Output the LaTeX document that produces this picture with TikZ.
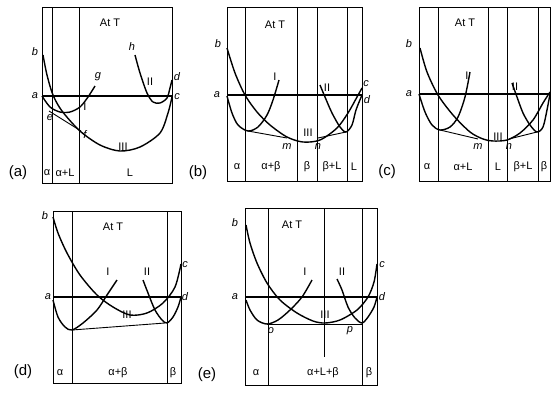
\documentclass[tikz,border=0pt]{standalone}
\usepackage{fontspec}
\setmainfont{Liberation Sans}

\begin{document}
\begin{tikzpicture}[
    x=1pt, y=-1pt,
    every node/.style={font=\fontsize{11}{13}\selectfont, inner sep=0pt},
    frame/.style={draw, line width=0.8pt},
    phase/.style={line width=0.8pt},
    tie/.style={line width=1.5pt},
    curve/.style={line width=1.4pt},
    tangent/.style={line width=0.9pt},
    pt/.style={font=\fontsize{11}{13}\selectfont\itshape},
    tag/.style={font=\fontsize{15}{17}\selectfont}
]
\useasboundingbox (0,0) rectangle (552,392);

% --- Panel (a) ---
\draw[frame] (42,7) rectangle (172,183);
\draw[phase] (52,7) -- (52,183);
\draw[phase] (79,7) -- (79,183);
\draw[tie] (42,96) -- (172,96);
\draw[curve] plot[smooth] coordinates {(43,55) (47,75) (53,95) (62,111) (80,131) (100,145) (120,151) (140,147) (160,133) (168,113) (172,97)};
\draw[curve] plot[smooth] coordinates {(42,96) (50,107) (60,112) (70,112) (80,107) (88,97) (95,86)};
\draw[curve] plot[smooth] coordinates {(135,55) (140,73) (147,93) (153,102) (160,103) (167,98) (170,88) (172,80)};
\draw[tangent] (49,111) -- (81,131);
\node (Ta) at (110,23) {At T};
\node[pt] (ba) at (35,52) {b};
\node[pt] (aa) at (35,96) {a};
\node[pt] (ea) at (50,118) {e};
\node[pt] (ga) at (98,77) {g};
\node[pt] (fa) at (85,135) {f};
\node[pt] (ha) at (132,47) {h};
\node[pt] (da) at (177,77) {d};
\node[pt] (ca) at (177,97) {c};
\node (Ia) at (85,107) {I};
\node (IIa) at (150,82) {II};
\node (IIIa) at (123,147) {III};
\node (p1a) at (47,173) {α};
\node (p2a) at (65,173) {α+L};
\node (p3a) at (130,173) {L};
\node[tag] (taga) at (18,173) {(a)};

% --- Panel (b) ---
\draw[frame] (227,7) rectangle (362,181);
\foreach \x in {245,297,317,347}
    \draw[phase] (\x,7) -- (\x,181);
\draw[tie] (227,95) -- (362,95);
\draw[curve] plot[smooth] coordinates {(227,96) (232,113) (238,125) (248,131) (258,127) (267,115) (273,100) (279,80)};
\draw[curve] plot[smooth] coordinates {(227,48) (235,73) (245,95) (257,112) (270,125) (287,137) (303,142) (320,140) (337,128) (348,113) (357,97) (362,88)};
\draw[curve] plot[smooth] coordinates {(320,85) (325,97) (332,113) (340,127) (346,132) (352,125) (356,110) (362,95)};
\draw[tangent] (248,131) -- (287,138);
\draw[tangent] (318,138) -- (346,132);
\node (Tb) at (275,25) {At T};
\node[pt] (bb) at (218,44) {b};
\node[pt] (ab) at (217,95) {a};
\node[pt] (cb) at (366,84) {c};
\node[pt] (db) at (367,100) {d};
\node[pt] (mb) at (287,147) {m};
\node[pt] (nb) at (318,147) {n};
\node (Ib) at (275,77) {I};
\node (IIb) at (327,88) {II};
\node (IIIb) at (308,133) {III};
\node (p1b) at (237,167) {α};
\node (p2b) at (271,167) {α+β};
\node (p3b) at (307,167) {β};
\node (p4b) at (332,167) {β+L};
\node (p5b) at (354,167) {L};
\node[tag] (tagb) at (198,173) {(b)};

% --- Panel (c) ---
\draw[frame] (419,7) rectangle (550,181);
\foreach \x in {438,488,507,538}
    \draw[phase] (\x,7) -- (\x,181);
\draw[tie] (419,94) -- (550,94);
\draw[curve] plot[smooth] coordinates {(419,94) (425,112) (432,125) (440,130) (450,127) (458,117) (465,97) (470,72)};
\draw[curve] plot[smooth] coordinates {(420,48) (427,72) (438,95) (453,115) (470,132) (483,139) (493,141) (507,140) (520,133) (533,120) (543,103) (550,92)};
\draw[curve] plot[smooth] coordinates {(512,83) (517,97) (523,113) (530,125) (537,132) (543,127) (547,110) (550,94)};
\draw[tangent] (440,130) -- (478,139);
\draw[tangent] (509,139) -- (537,132);
\node (Tc) at (465,23) {At T};
\node[pt] (bc) at (409,44) {b};
\node[pt] (ac) at (409,94) {a};
\node[pt] (mc) at (478,147) {m};
\node[pt] (nc) at (509,147) {n};
\node (Ic) at (467,76) {I};
\node (IIc) at (515,87) {II};
\node (IIIc) at (498,137) {III};
\node (p1c) at (427,167) {α};
\node (p2c) at (463,167) {α+L};
\node (p3c) at (498,167) {L};
\node (p4c) at (523,167) {β+L};
\node (p5c) at (544,167) {β};
\node[tag] (tagc) at (387,172) {(c)};

% --- Panel (d) ---
\draw[frame] (53,211) rectangle (181,383);
\draw[phase] (72,211) -- (72,383);
\draw[phase] (167,211) -- (167,383);
\draw[tie] (53,297) -- (181,297);
\draw[curve] plot[smooth] coordinates {(53,217) (58,233) (67,253) (80,275) (97,295) (113,307) (130,315) (147,313) (163,303) (175,287) (181,264)};
\draw[curve] plot[smooth] coordinates {(53,300) (58,317) (65,327) (72,330) (83,323) (97,310) (107,295) (117,280)};
\draw[curve] plot[smooth] coordinates {(143,280) (148,293) (155,310) (162,320) (167,323) (173,317) (178,307) (181,297)};
\draw[tangent] (72,330) -- (165,323);
\node (Td) at (113,227) {At T};
\node[pt] (bd) at (45,216) {b};
\node[pt] (ad) at (48,297) {a};
\node[pt] (cd) at (185,265) {c};
\node[pt] (dd) at (185,297) {d};
\node (Id) at (108,272) {I};
\node (IId) at (147,272) {II};
\node (IIId) at (127,315) {III};
\node (p1d) at (60,373) {α};
\node (p2d) at (118,373) {α+β};
\node (p3d) at (173,373) {β};
\node[tag] (tagd) at (23,372) {(d)};

% --- Panel (e) ---
\draw[frame] (245,208) rectangle (377,385);
\draw[phase] (268,208) -- (268,385);
\draw[phase] (324,208) -- (324,357);
\draw[phase] (362,208) -- (362,385);
\draw[tie] (245,297) -- (377,297);
\draw[curve] plot[smooth] coordinates {(246,225) (250,243) (257,263) (267,283) (280,300) (297,313) (313,321) (325,323) (340,320) (357,310) (368,297) (374,282) (377,264)};
\draw[curve] plot[smooth] coordinates {(246,300) (250,310) (257,320) (267,324) (278,320) (290,310) (302,297) (312,280)};
\draw[curve] plot[smooth] coordinates {(337,279) (342,290) (348,307) (355,318) (362,323) (368,317) (374,307) (377,297)};
\draw[tangent] (267,324) -- (362,324);
\node (Te) at (292,225) {At T};
\node[pt] (be) at (235,223) {b};
\node[pt] (ae) at (235,297) {a};
\node[pt] (ce) at (382,265) {c};
\node[pt] (de) at (382,297) {d};
\node[pt] (oe) at (271,331) {o};
\node[pt] (pe) at (350,331) {p};
\node (Ie) at (305,272) {I};
\node (IIe) at (342,272) {II};
\node (IIIe) at (325,315) {III};
\node (p1e) at (256,373) {α};
\node (p2e) at (323,373) {α+L+β};
\node (p3e) at (369,373) {β};
\node[tag] (tage) at (207,375) {(e)};

\end{tikzpicture}
\end{document}
